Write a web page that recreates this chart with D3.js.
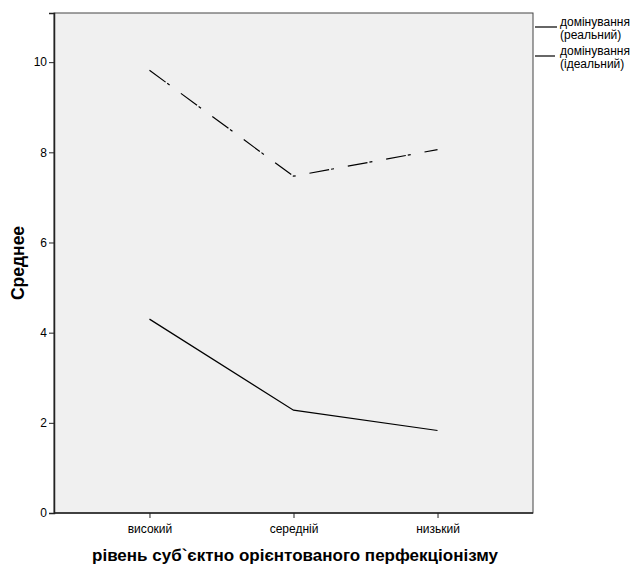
<!DOCTYPE html>
<html><head><meta charset="utf-8">
<script src="https://cdn.jsdelivr.net/npm/d3@7"></script>
<style>body{margin:0;background:#fff}svg{display:block}text{font-family:"Liberation Sans",Arial,sans-serif}</style>
</head><body><svg id="c" width="641" height="567"></svg>
<script>
const categories = ["високий", "середній", "низький"];
const realValues = [4.30, 2.28, 1.83];
const idealValues = [9.82, 7.47, 8.06];
const seriesNames = [["домінування", "(реальний)"], ["домінування", "(ідеальний)"]];
const yTicks = [0, 2, 4, 6, 8, 10];

const svg = d3.select("#c");
const L = 54, R = 533, T = 13, B = 513;
const x = d3.scalePoint().domain(categories).range([L, R]).padding(0.663);
const y = d3.scaleLinear().domain([0, 11.09]).range([B, T]);

svg.append("rect").attr("x", L).attr("y", T).attr("width", R - L).attr("height", B - T)
  .attr("fill", "#f0f0f0").attr("stroke", "#444").attr("stroke-width", 1);

const ya = svg.append("g").attr("transform", `translate(${L},0)`)
  .call(d3.axisLeft(y).tickValues(yTicks).tickSize(5).tickPadding(2).tickFormat(d3.format("d")));
ya.select(".domain").attr("stroke", "#222").attr("stroke-width", 1.5);
ya.selectAll(".tick line").attr("stroke", "#222");
ya.selectAll("text").attr("font-size", 12).attr("fill", "#000").attr("font-family", "Liberation Sans, Arial, sans-serif");

const xa = svg.append("g").attr("transform", `translate(0,${B})`)
  .call(d3.axisBottom(x).tickSize(5).tickPadding(6));
xa.select(".domain").attr("stroke", "#222").attr("stroke-width", 1.5).attr("d", `M${L},0H${R}`);
xa.selectAll(".tick line").attr("stroke", "#222");
xa.selectAll("text").attr("font-size", 12).attr("fill", "#000").attr("font-family", "Liberation Sans, Arial, sans-serif");

const line = d3.line().x((d, i) => x(categories[i])).y(d => y(d));
svg.append("path").datum(realValues).attr("d", line).attr("fill", "none").attr("stroke", "#000").attr("stroke-width", 1.2);
svg.append("path").datum(idealValues).attr("d", line).attr("fill", "none").attr("stroke", "#000").attr("stroke-width", 1.2)
  .attr("stroke-dasharray", "20,2,3,14");

// legend
const legY = [27, 56];
const dashes = [null, "20,2,3,14"];
seriesNames.forEach((nm, i) => {
  svg.append("line").attr("x1", R + 2).attr("x2", 557).attr("y1", legY[i]).attr("y2", legY[i])
    .attr("stroke", "#000").attr("stroke-width", 1.2).attr("stroke-dasharray", dashes[i]);
  svg.append("text").attr("x", 560).attr("y", legY[i] - 1).attr("font-size", 12).attr("fill", "#000").text(nm[0]);
  svg.append("text").attr("x", 560).attr("y", legY[i] + 12).attr("font-size", 12).attr("fill", "#000").text(nm[1]);
});

svg.append("text").attr("transform", `translate(24,${(T + B) / 2 + 0}) rotate(-90)`).attr("text-anchor", "middle")
  .attr("font-size", 17.5).attr("font-weight", "bold").text("Среднее");
svg.append("text").attr("x", 295).attr("y", 561).attr("text-anchor", "middle")
  .attr("font-size", 17).attr("font-weight", "bold").text("рівень суб`єктно орієнтованого перфекціонізму");
</script></body></html>
